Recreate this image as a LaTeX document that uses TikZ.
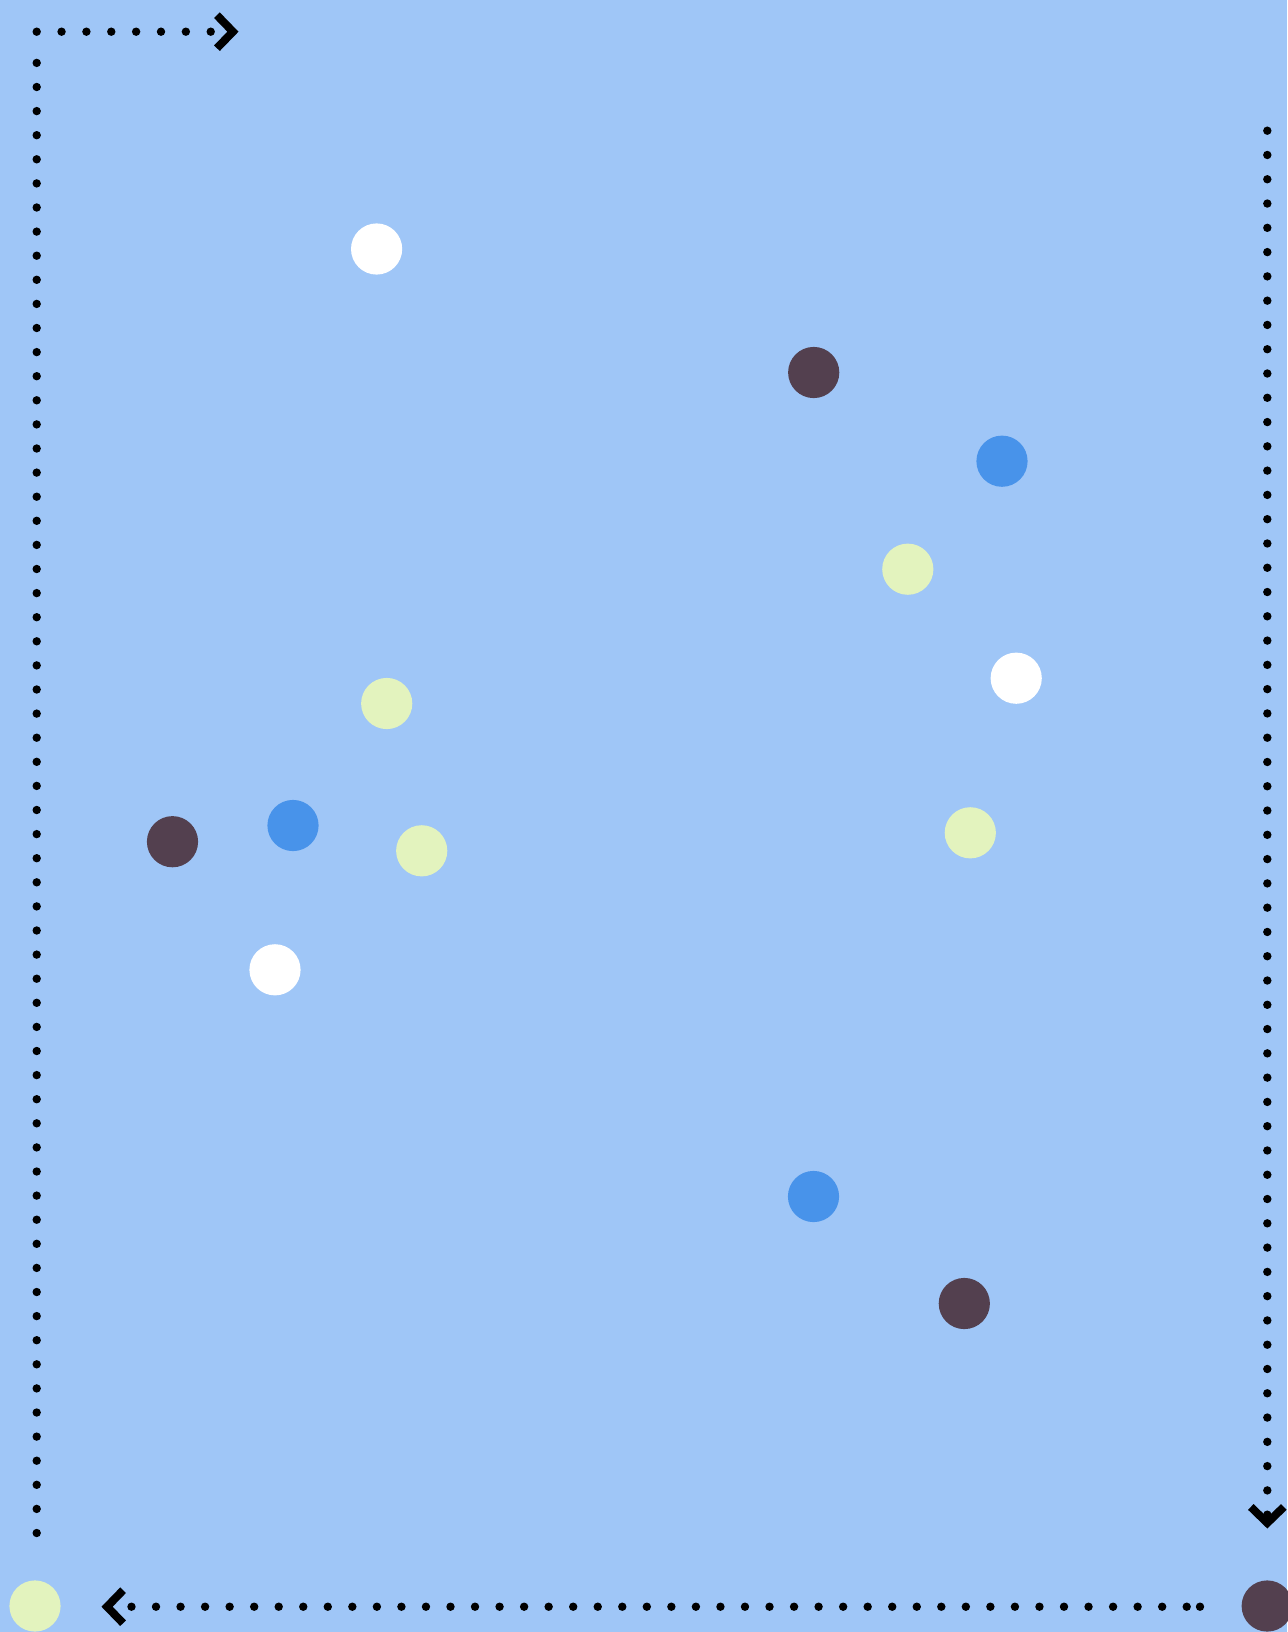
\documentclass[tikz,border=0pt]{standalone}
\usetikzlibrary{arrows.meta}
\definecolor{skybg}{HTML}{9FC6F7}
\definecolor{plum}{HTML}{53404F}
\definecolor{azure}{HTML}{4893EA}
\definecolor{limewash}{HTML}{E3F3BE}

\tikzset{
  flow/.style={line width=4.2pt, line cap=round, dash pattern=on 0pt off #1,
    -{Straight Barb[sharp, length=8pt, width=16.5pt, line width=4pt]}},
  flow/.default=12.2pt,
  trail/.style={line width=4.2pt, line cap=round, dash pattern=on 0pt off #1},
  blob/.style={circle, inner sep=0pt, minimum size=25.6pt, fill=#1}
}

\begin{document}
\begin{tikzpicture}[x=0.5pt, y=-0.5pt]
\useasboundingbox (0,0) rectangle (1287,1632);
\fill[skybg] (0,0) rectangle (1287,1632);
% clockwise loop round the field
\draw[trail=12.05pt] (36.7,1533) -- (36.7,62.7);
\draw[flow=12.43pt] (36.7,31.7) -- (238.5,31.7);
\draw[flow=12.14pt] (1267.3,130.7) -- (1267.3,1528.5);
\draw[flow=12.27pt] (1186.7,1606.7) -- (101.5,1606.7);
\fill (1200,1606.7) circle[radius=2.1pt];
% the dots
\foreach \x/\y/\c/\n in {376.6/249/white/w1, 813.7/372.5/plum/p1, 1002/461.2/azure/a1,
  907.8/569.2/limewash/g1, 1016.2/678.2/white/w2, 386.7/703.5/limewash/g2,
  172.5/841.7/plum/p2, 293/825.5/azure/a2, 421.7/850.8/limewash/g3,
  970.3/832.8/limewash/g4, 275/969.8/white/w3, 813.5/1196.5/azure/a3,
  964.3/1303.5/plum/p3, 35/1606/limewash/g5, 1267.2/1606/plum/p4}
  \node[blob=\c] (\n) at (\x,\y) {};
\end{tikzpicture}
\end{document}
